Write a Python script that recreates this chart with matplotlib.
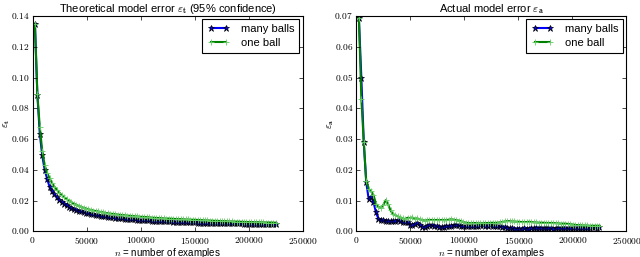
import matplotlib
matplotlib.use("Agg")
import matplotlib.pyplot as plt
import matplotlib.ticker as mticker
import numpy as np

plt.style.use("classic")
plt.rcParams["font.family"] = ["Liberation Sans", "DejaVu Sans"]
plt.rcParams["mathtext.fontset"] = "cm"

# number of examples (one point every 2250 examples)
n_examples = np.arange(2250, 225001, 2250)

# theoretical model error (95% confidence)
theo_many = [
    0.1346, 0.0886, 0.0633, 0.0493, 0.0400, 0.0342, 0.0290, 0.0262, 0.0240, 0.0221,
    0.0205, 0.0191, 0.0179, 0.0169, 0.0160, 0.0152, 0.0145, 0.0139, 0.0134, 0.0129,
    0.0125, 0.0121, 0.0117, 0.0113, 0.0110, 0.0107, 0.0104, 0.0101, 0.0099, 0.0097,
    0.0094, 0.0092, 0.0091, 0.0089, 0.0087, 0.0085, 0.0084, 0.0082, 0.0081, 0.0080,
    0.0079, 0.0077, 0.0076, 0.0075, 0.0074, 0.0073, 0.0072, 0.0071, 0.0070, 0.0069,
    0.0068, 0.0067, 0.0067, 0.0066, 0.0065, 0.0064, 0.0064, 0.0063, 0.0062, 0.0062,
    0.0061, 0.0060, 0.0060, 0.0059, 0.0059, 0.0058, 0.0058, 0.0057, 0.0057, 0.0056,
    0.0056, 0.0055, 0.0055, 0.0055, 0.0054, 0.0054, 0.0054, 0.0053, 0.0053, 0.0053,
    0.0052, 0.0052, 0.0052, 0.0051, 0.0051, 0.0051, 0.0050, 0.0050, 0.0050, 0.0049,
    0.0049, 0.0049, 0.0049, 0.0048, 0.0048, 0.0048, 0.0048, 0.0047, 0.0047, 0.0047,
]
theo_one = [
    0.1346, 0.0890, 0.0677, 0.0525, 0.0430, 0.0380, 0.0345, 0.0315, 0.0290, 0.0270,
    0.0252, 0.0237, 0.0222, 0.0210, 0.0199, 0.0189, 0.0180, 0.0172, 0.0165, 0.0159,
    0.0153, 0.0148, 0.0143, 0.0139, 0.0135, 0.0132, 0.0129, 0.0126, 0.0123, 0.0120,
    0.0117, 0.0115, 0.0113, 0.0111, 0.0109, 0.0107, 0.0105, 0.0104, 0.0102, 0.0101,
    0.0099, 0.0098, 0.0097, 0.0095, 0.0094, 0.0093, 0.0092, 0.0091, 0.0089, 0.0088,
    0.0087, 0.0086, 0.0085, 0.0084, 0.0083, 0.0083, 0.0082, 0.0081, 0.0080, 0.0079,
    0.0079, 0.0078, 0.0077, 0.0077, 0.0076, 0.0075, 0.0075, 0.0074, 0.0073, 0.0072,
    0.0071, 0.0071, 0.0070, 0.0069, 0.0068, 0.0068, 0.0067, 0.0066, 0.0066, 0.0065,
    0.0064, 0.0064, 0.0063, 0.0063, 0.0062, 0.0062, 0.0061, 0.0061, 0.0060, 0.0060,
    0.0059, 0.0059, 0.0059, 0.0058, 0.0058, 0.0057, 0.0057, 0.0057, 0.0056, 0.0056,
]

# actual model error
act_many = [
    0.0693, 0.0500, 0.0290, 0.0160, 0.0106, 0.0113, 0.0095, 0.0062, 0.0041, 0.0037,
    0.0036, 0.0034, 0.0035, 0.0033, 0.0034, 0.0033, 0.0036, 0.0033, 0.0031, 0.0030,
    0.0029, 0.0020, 0.0022, 0.0025, 0.0026, 0.0021, 0.0015, 0.0014, 0.0016, 0.0019,
    0.0020, 0.0018, 0.0016, 0.0014, 0.0015, 0.0014, 0.0016, 0.0016, 0.0017, 0.0019,
    0.0020, 0.0019, 0.0018, 0.0017, 0.0016, 0.0016, 0.0017, 0.0017, 0.0018, 0.0018,
    0.0019, 0.0019, 0.0018, 0.0018, 0.0019, 0.0018, 0.0017, 0.0017, 0.0016, 0.0015,
    0.0014, 0.0012, 0.0010, 0.0010, 0.0009, 0.0009, 0.0009, 0.0009, 0.0010, 0.0009,
    0.0009, 0.0010, 0.0011, 0.0012, 0.0012, 0.0012, 0.0011, 0.0011, 0.0010, 0.0010,
    0.0009, 0.0010, 0.0011, 0.0011, 0.0011, 0.0012, 0.0011, 0.0011, 0.0011, 0.0011,
    0.0012, 0.0012, 0.0012, 0.0011, 0.0012, 0.0012, 0.0013, 0.0013, 0.0012, 0.0013,
]
act_one = [
    0.0693, 0.0430, 0.0290, 0.0165, 0.0138, 0.0130, 0.0118, 0.0090, 0.0079, 0.0076,
    0.0085, 0.0101, 0.0088, 0.0068, 0.0056, 0.0052, 0.0049, 0.0045, 0.0042, 0.0040,
    0.0044, 0.0043, 0.0045, 0.0041, 0.0042, 0.0039, 0.0037, 0.0035, 0.0036, 0.0037,
    0.0037, 0.0036, 0.0037, 0.0036, 0.0037, 0.0036, 0.0036, 0.0038, 0.0039, 0.0038,
    0.0036, 0.0035, 0.0033, 0.0030, 0.0028, 0.0027, 0.0026, 0.0027, 0.0027, 0.0026,
    0.0026, 0.0026, 0.0027, 0.0027, 0.0027, 0.0028, 0.0027, 0.0028, 0.0029, 0.0030,
    0.0032, 0.0033, 0.0033, 0.0032, 0.0032, 0.0031, 0.0031, 0.0030, 0.0030, 0.0030,
    0.0031, 0.0030, 0.0029, 0.0029, 0.0028, 0.0028, 0.0028, 0.0027, 0.0027, 0.0027,
    0.0027, 0.0026, 0.0026, 0.0025, 0.0025, 0.0025, 0.0024, 0.0023, 0.0022, 0.0021,
    0.0020, 0.0020, 0.0019, 0.0019, 0.0019, 0.0018, 0.0018, 0.0018, 0.0018, 0.0018,
]

x_ticks = [0, 50000, 100000, 150000, 200000, 250000]


def math_fmt(dec):
    return mticker.FuncFormatter(lambda v, p: "$%.*f$" % (dec, v) if dec else "$%d$" % v)


def draw(ax, many, one, ymax, ystep, title, ylab):
    ax.plot(n_examples, many, color="b", lw=1.5, marker="*", ms=4.5,
            mfc="b", mec="k", mew=0.5, label="many balls")
    ax.plot(n_examples, one, color="g", lw=1.5, marker="+", ms=4.5,
            mec="#66cc66", mew=0.6, label="one ball")
    ax.set_xlim(0, 250000)
    ax.set_ylim(0, ymax)
    ax.set_xticks(x_ticks)
    ax.set_yticks(np.arange(0, ymax + ystep / 2, ystep))
    ax.xaxis.set_major_formatter(math_fmt(0))
    ax.yaxis.set_major_formatter(math_fmt(2))
    ax.tick_params(labelsize=6.8, length=3, width=0.5, direction="in", pad=2.5)
    ax.set_title(title, fontsize=8, pad=3)
    ax.set_xlabel("$n$ = number of examples", fontsize=7)
    ax.xaxis.set_label_coords(0.5, -0.066)
    ax.set_ylabel(ylab, fontsize=7.5)
    ax.yaxis.set_label_coords(-0.075, 0.5)
    for s in ax.spines.values():
        s.set_linewidth(0.8)
    leg = ax.legend(loc="upper right", fontsize=8, numpoints=2,
                    handlelength=2.0, handletextpad=1.0, borderpad=0.45,
                    labelspacing=0.3, borderaxespad=0.3)
    leg.get_frame().set_linewidth(0.8)


fig = plt.figure(figsize=(6.4, 2.57), dpi=100, facecolor="white")
ax1 = fig.add_axes([0.0508, 0.100, 0.4219, 0.8377])
ax2 = fig.add_axes([0.5570, 0.100, 0.4219, 0.8377])

draw(ax1, theo_many, theo_one, 0.14, 0.02,
     r"Theoretical model error $\varepsilon_\mathbf{t}$ (95% confidence)",
     r"$\varepsilon_\mathbf{t}$")
draw(ax2, act_many, act_one, 0.07, 0.01,
     r"Actual model error $\varepsilon_\mathbf{a}$",
     r"$\varepsilon_\mathbf{a}$")

fig.savefig("out.png", dpi=100, facecolor="white")
